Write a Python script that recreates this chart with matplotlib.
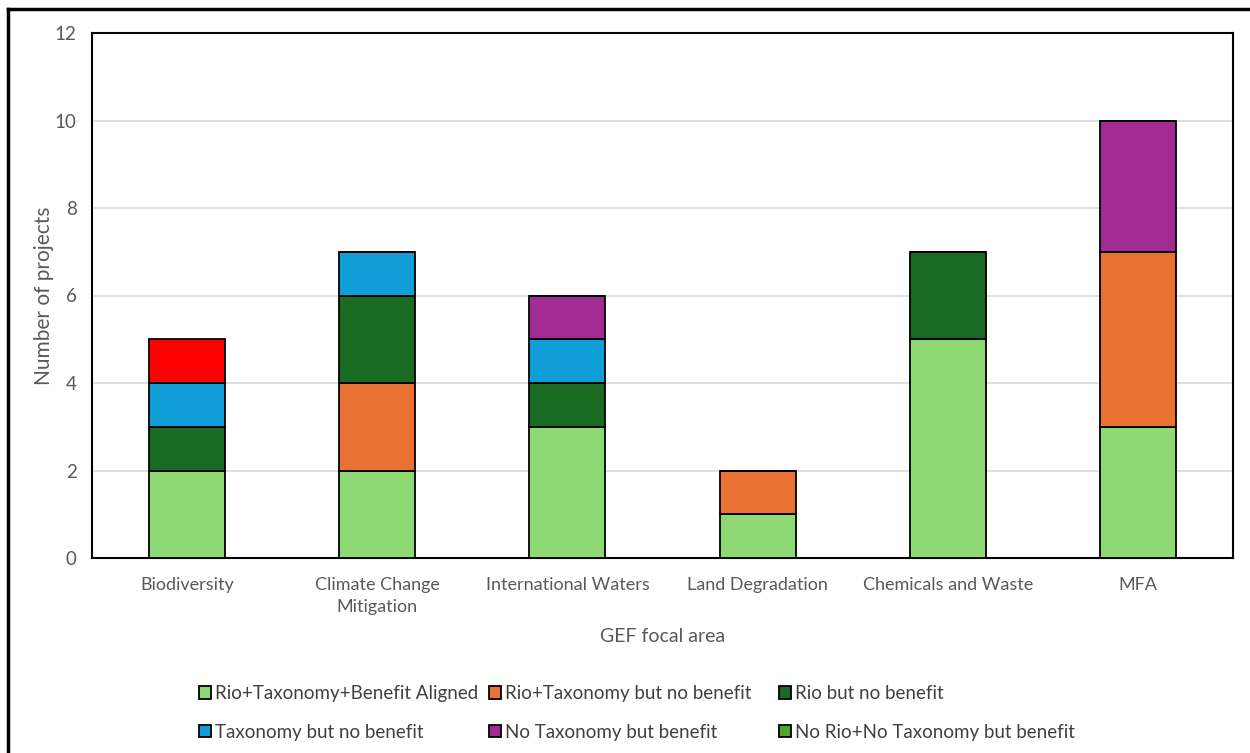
import numpy as np
import matplotlib.pyplot as plt
from matplotlib.lines import Line2D
from matplotlib.patches import Patch

# data
areas = ["Biodiversity", "Climate Change\nMitigation", "International Waters",
         "Land Degradation", "Chemicals and Waste", "MFA"]
aligned = [2, 2, 3, 1, 5, 3]
rio_tax_nobenefit = [0, 2, 0, 1, 0, 4]
rio_nobenefit = [1, 2, 1, 0, 2, 0]
tax_nobenefit = [1, 1, 1, 0, 0, 0]
notax_benefit = [0, 0, 1, 0, 0, 3]
norio_notax_benefit = [1, 0, 0, 0, 0, 0]

series = [
    ("Rio+Taxonomy+Benefit Aligned", aligned, "#8FD974"),
    ("Rio+Taxonomy but no benefit", rio_tax_nobenefit, "#E97132"),
    ("Rio but no benefit", rio_nobenefit, "#196B24"),
    ("Taxonomy but no benefit", tax_nobenefit, "#0F9ED5"),
    ("No Taxonomy but benefit", notax_benefit, "#A02B93"),
    ("No Rio+No Taxonomy but benefit", norio_notax_benefit, "#4EA72E"),
]

plt.rcParams['font.family'] = ['Lato', 'DejaVu Sans']

fig = plt.figure(figsize=(12.5, 7.53), dpi=100)
ax = fig.add_axes([92 / 1250, 1 - 558 / 753, (1233 - 92) / 1250, (558 - 33) / 753])

x = np.arange(len(areas))
bottom = np.zeros(len(areas))
for name, vals, col in series:
    vals = np.array(vals, dtype=float)
    bars = ax.bar(x, vals, 0.4, bottom=bottom, color=col, edgecolor="black",
                  linewidth=1.3, zorder=3)
    if name.startswith("No Rio"):
        # this point was recoloured red in the original
        bars[0].set_facecolor("#FF0000")
    bottom += vals

ax.set_xlim(-0.5, len(areas) - 0.5)
ax.set_ylim(0, 12)
ax.set_yticks(range(0, 13, 2))
ax.yaxis.grid(True, color="#D9D9D9", linewidth=1.2, zorder=0)
ax.tick_params(axis="y", length=0, labelsize=13.5, colors="#595959", pad=11)
ax.tick_params(axis="x", length=0, labelsize=13, colors="#595959", pad=14)
ax.set_xticks(x)
ax.set_xticklabels(areas, linespacing=1.45)
for s in ax.spines.values():
    s.set_linewidth(1.5)
    s.set_color("black")
ax.set_ylabel("Number of projects", fontsize=15, color="#595959")
ax.yaxis.set_label_coords(-38 / 1141, 0.5)
ax.set_xlabel("GEF focal area", fontsize=14, color="#595959", labelpad=9)

# legend: three columns placed like the original (row-major order)
col_x = [199, 489, 779]
for i, cx in enumerate(col_x):
    hs = []
    for j in (i, i + 3):
        n, _, c = series[j]
        hs.append(Patch(facecolor=c, edgecolor="black", linewidth=1.3, label=n))
    fig.legend(handles=hs, loc="upper left", bbox_to_anchor=(cx / 1250, 1 - 685 / 753),
               frameon=False, fontsize=13.5, handlelength=0.65, handleheight=0.65,
               handletextpad=0.2, labelspacing=1.15, labelcolor="#404040",
               borderpad=0, borderaxespad=0)

# outer chart frame (left and top edges only visible)
fig.add_artist(Line2D([8 / 1250, 8 / 1250], [0, 1 - 9 / 753], color="black", linewidth=2.5))
fig.add_artist(Line2D([8 / 1250, 1], [1 - 9 / 753, 1 - 9 / 753], color="black", linewidth=2.5))

fig.savefig("out.png", dpi=100)
